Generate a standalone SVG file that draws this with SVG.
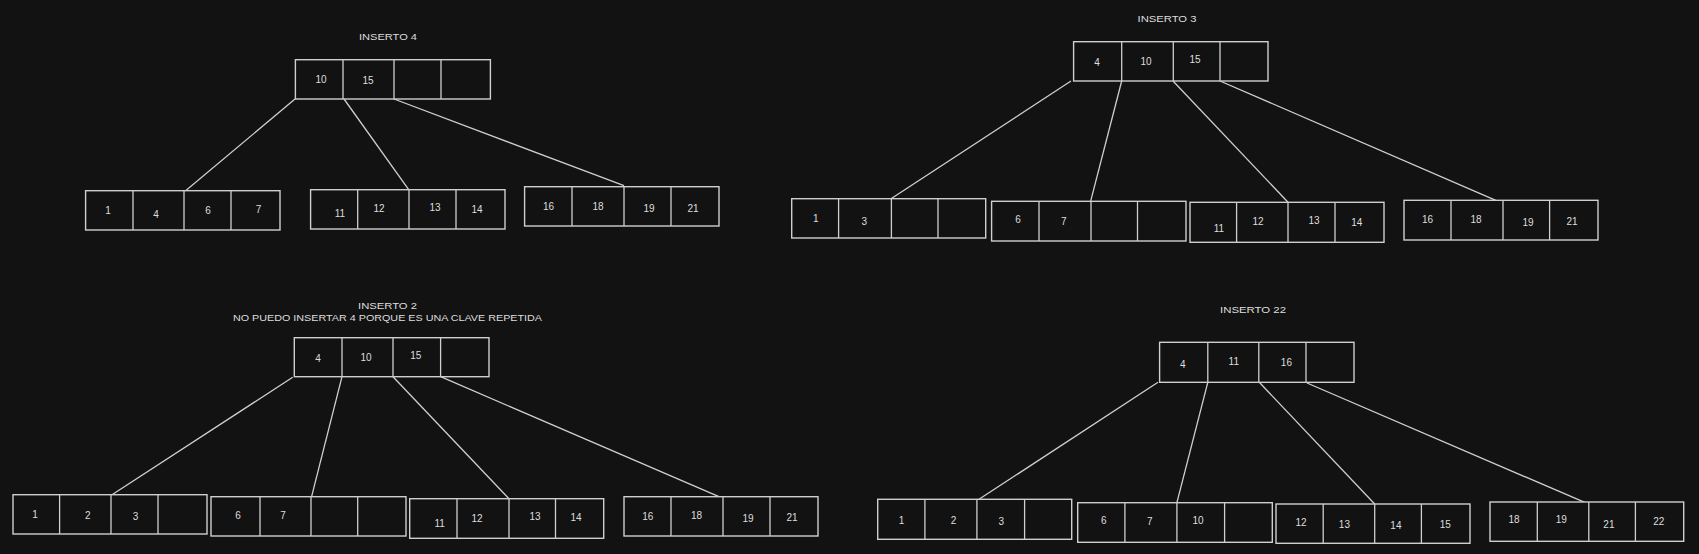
<svg xmlns="http://www.w3.org/2000/svg" width="1699" height="554" viewBox="0 0 1699 554">
<style>
.bg{fill:#121212}
.box{fill:#121212;stroke:#cfcfcf;stroke-width:1.4}
.dv{stroke:#cfcfcf;stroke-width:1.3}
.edge{stroke:#cfcfcf;stroke-width:1.3;fill:none}
.t{font-family:"Liberation Sans",Arial,sans-serif;font-size:10px;fill:#dedede;text-anchor:middle;dominant-baseline:central}
.ti{font-family:"Liberation Sans",Arial,sans-serif;font-size:9.5px;fill:#dedede;text-anchor:middle;dominant-baseline:central}
</style>
<rect class="bg" x="0" y="0" width="1699" height="554"/>

<g id="connectors">
  <line class="edge" x1="295" y1="99" x2="185" y2="191.3"/>
  <line class="edge" x1="344" y1="99" x2="408.7" y2="189.7"/>
  <line class="edge" x1="394" y1="99" x2="624" y2="185.7"/>

  <line class="edge" x1="1071" y1="81" x2="891" y2="198.7"/>
  <line class="edge" x1="1121.7" y1="81" x2="1090.6" y2="201.3"/>
  <line class="edge" x1="1173" y1="81" x2="1288" y2="202.3"/>
  <line class="edge" x1="1220" y1="81" x2="1502.7" y2="203.3"/>

  <line class="edge" x1="292.7" y1="377.3" x2="112" y2="494.7"/>
  <line class="edge" x1="342" y1="376.7" x2="311.6" y2="496.7"/>
  <line class="edge" x1="393" y1="376.7" x2="509" y2="498.7"/>
  <line class="edge" x1="440.6" y1="376.7" x2="723" y2="498.3"/>

  <line class="edge" x1="1158" y1="382.3" x2="979" y2="499.3"/>
  <line class="edge" x1="1207.8" y1="382.3" x2="1176.9" y2="502.7"/>
  <line class="edge" x1="1259.3" y1="382.3" x2="1374.7" y2="504"/>
  <line class="edge" x1="1307" y1="383" x2="1587.7" y2="503.7"/>
</g>

<!-- Tree A: INSERTO 4 -->
<g id="titleA"><text class="ti" x="388" y="36" textLength="58" lengthAdjust="spacingAndGlyphs">INSERTO 4</text></g>
<g id="rootA">
  <rect class="box" x="295.4" y="59.7" width="195" height="39.3"/>
  <line class="dv" x1="343" y1="59.7" x2="343" y2="99"/><line class="dv" x1="394" y1="59.7" x2="394" y2="99"/><line class="dv" x1="441" y1="59.7" x2="441" y2="99"/>
  <text class="t" x="321" y="79.7">10</text><text class="t" x="368" y="80.7">15</text>
</g>
<g id="leafA1">
  <rect class="box" x="85.6" y="190.7" width="194.4" height="39.3"/>
  <line class="dv" x1="133" y1="190.7" x2="133" y2="230"/><line class="dv" x1="184" y1="190.7" x2="184" y2="230"/><line class="dv" x1="231" y1="190.7" x2="231" y2="230"/>
  <text class="t" x="108" y="210.7">1</text><text class="t" x="156" y="214.3">4</text><text class="t" x="208" y="210">6</text><text class="t" x="258.5" y="209">7</text>
</g>
<g id="leafA2">
  <rect class="box" x="310.6" y="189.7" width="194.4" height="39.3"/>
  <line class="dv" x1="357.7" y1="189.7" x2="357.7" y2="229"/><line class="dv" x1="409" y1="189.7" x2="409" y2="229"/><line class="dv" x1="456" y1="189.7" x2="456" y2="229"/>
  <text class="t" x="340" y="213.7">11</text><text class="t" x="379" y="208">12</text><text class="t" x="435" y="207.3">13</text><text class="t" x="477" y="209">14</text>
</g>
<g id="leafA3">
  <rect class="box" x="524.6" y="186.7" width="194.4" height="39.3"/>
  <line class="dv" x1="572" y1="186.7" x2="572" y2="226"/><line class="dv" x1="624" y1="186.7" x2="624" y2="226"/><line class="dv" x1="671" y1="186.7" x2="671" y2="226"/>
  <text class="t" x="548.5" y="206.7">16</text><text class="t" x="598" y="206.7">18</text><text class="t" x="649" y="208.3">19</text><text class="t" x="693" y="208">21</text>
</g>

<!-- Tree B: INSERTO 3 -->
<g id="titleB"><text class="ti" x="1167" y="18.3" textLength="59" lengthAdjust="spacingAndGlyphs">INSERTO 3</text></g>
<g id="rootB">
  <rect class="box" x="1073.6" y="41.7" width="194.4" height="39.3"/>
  <line class="dv" x1="1121.7" y1="41.7" x2="1121.7" y2="81"/><line class="dv" x1="1173.3" y1="41.7" x2="1173.3" y2="81"/><line class="dv" x1="1220" y1="41.7" x2="1220" y2="81"/>
  <text class="t" x="1097" y="62.7">4</text><text class="t" x="1146" y="61.3">10</text><text class="t" x="1195" y="59">15</text>
</g>
<g id="leafB1">
  <rect class="box" x="791.7" y="198.7" width="194" height="39.3"/>
  <line class="dv" x1="838.6" y1="198.7" x2="838.6" y2="238"/><line class="dv" x1="891.4" y1="198.7" x2="891.4" y2="238"/><line class="dv" x1="938" y1="198.7" x2="938" y2="238"/>
  <text class="t" x="815.7" y="218.3">1</text><text class="t" x="864.4" y="221">3</text>
</g>
<g id="leafB2">
  <rect class="box" x="991.6" y="201.3" width="194.4" height="39.7"/>
  <line class="dv" x1="1039" y1="201.3" x2="1039" y2="241"/><line class="dv" x1="1091" y1="201.3" x2="1091" y2="241"/><line class="dv" x1="1137.5" y1="201.3" x2="1137.5" y2="241"/>
  <text class="t" x="1018" y="219">6</text><text class="t" x="1063.7" y="221">7</text>
</g>
<g id="leafB3">
  <rect class="box" x="1190" y="202.3" width="194" height="40"/>
  <line class="dv" x1="1236.6" y1="202.3" x2="1236.6" y2="242.3"/><line class="dv" x1="1288" y1="202.3" x2="1288" y2="242.3"/><line class="dv" x1="1335" y1="202.3" x2="1335" y2="242.3"/>
  <text class="t" x="1219" y="228">11</text><text class="t" x="1258" y="221.7">12</text><text class="t" x="1314" y="220">13</text><text class="t" x="1356.7" y="222.3">14</text>
</g>
<g id="leafB4">
  <rect class="box" x="1404" y="200.3" width="194" height="39.7"/>
  <line class="dv" x1="1451" y1="200.3" x2="1451" y2="240"/><line class="dv" x1="1503" y1="200.3" x2="1503" y2="240"/><line class="dv" x1="1549.6" y1="200.3" x2="1549.6" y2="240"/>
  <text class="t" x="1427.6" y="219.7">16</text><text class="t" x="1476" y="219.7">18</text><text class="t" x="1528" y="222">19</text><text class="t" x="1572" y="221.7">21</text>
</g>

<!-- Tree C: INSERTO 2 -->
<g id="titleC">
  <text class="ti" x="387.5" y="305" textLength="59" lengthAdjust="spacingAndGlyphs">INSERTO 2</text>
  <text class="ti" x="387.5" y="317.7" textLength="309" lengthAdjust="spacingAndGlyphs">NO PUEDO INSERTAR 4 PORQUE ES UNA CLAVE REPETIDA</text>
</g>
<g id="rootC">
  <rect class="box" x="294.3" y="337.7" width="194.7" height="39"/>
  <line class="dv" x1="342" y1="337.7" x2="342" y2="376.7"/><line class="dv" x1="393" y1="337.7" x2="393" y2="376.7"/><line class="dv" x1="440.6" y1="337.7" x2="440.6" y2="376.7"/>
  <text class="t" x="318" y="358.7">4</text><text class="t" x="366" y="357.3">10</text><text class="t" x="415.7" y="355">15</text>
</g>
<g id="leafC1">
  <rect class="box" x="13" y="494.7" width="194" height="39.3"/>
  <line class="dv" x1="59.6" y1="494.7" x2="59.6" y2="534"/><line class="dv" x1="111" y1="494.7" x2="111" y2="534"/><line class="dv" x1="158" y1="494.7" x2="158" y2="534"/>
  <text class="t" x="35" y="514">1</text><text class="t" x="87.8" y="515.3">2</text><text class="t" x="135.5" y="516.3">3</text>
</g>
<g id="leafC2">
  <rect class="box" x="211" y="496.7" width="195" height="39.3"/>
  <line class="dv" x1="260" y1="496.7" x2="260" y2="536"/><line class="dv" x1="311" y1="496.7" x2="311" y2="536"/><line class="dv" x1="357.7" y1="496.7" x2="357.7" y2="536"/>
  <text class="t" x="238" y="515">6</text><text class="t" x="283" y="515.7">7</text>
</g>
<g id="leafC3">
  <rect class="box" x="409.7" y="498.7" width="194" height="39.6"/>
  <line class="dv" x1="457" y1="498.7" x2="457" y2="538.3"/><line class="dv" x1="509" y1="498.7" x2="509" y2="538.3"/><line class="dv" x1="555.5" y1="498.7" x2="555.5" y2="538.3"/>
  <text class="t" x="439.6" y="523.7">11</text><text class="t" x="477" y="518.3">12</text><text class="t" x="535" y="516.3">13</text><text class="t" x="576" y="517.7">14</text>
</g>
<g id="leafC4">
  <rect class="box" x="624" y="496.7" width="194" height="39.3"/>
  <line class="dv" x1="671" y1="496.7" x2="671" y2="536"/><line class="dv" x1="723" y1="496.7" x2="723" y2="536"/><line class="dv" x1="770" y1="496.7" x2="770" y2="536"/>
  <text class="t" x="647.7" y="516">16</text><text class="t" x="696.5" y="515.3">18</text><text class="t" x="748" y="518">19</text><text class="t" x="792" y="517">21</text>
</g>

<!-- Tree D: INSERTO 22 -->
<g id="titleD"><text class="ti" x="1253" y="309.7" textLength="66" lengthAdjust="spacingAndGlyphs">INSERTO 22</text></g>
<g id="rootD">
  <rect class="box" x="1159.6" y="342.3" width="194.4" height="40"/>
  <line class="dv" x1="1207.8" y1="342.3" x2="1207.8" y2="382.3"/><line class="dv" x1="1258.8" y1="342.3" x2="1258.8" y2="382.3"/><line class="dv" x1="1306" y1="342.3" x2="1306" y2="382.3"/>
  <text class="t" x="1182.9" y="364.7">4</text><text class="t" x="1233.8" y="361">11</text><text class="t" x="1286.4" y="362.7">16</text>
</g>
<g id="leafD1">
  <rect class="box" x="877.7" y="499.3" width="194" height="40"/>
  <line class="dv" x1="924.9" y1="499.3" x2="924.9" y2="539.3"/><line class="dv" x1="976.9" y1="499.3" x2="976.9" y2="539.3"/><line class="dv" x1="1024.6" y1="499.3" x2="1024.6" y2="539.3"/>
  <text class="t" x="901.6" y="520.3">1</text><text class="t" x="953.6" y="520.3">2</text><text class="t" x="1001.3" y="521.3">3</text>
</g>
<g id="leafD2">
  <rect class="box" x="1077.7" y="502.7" width="194.6" height="39.6"/>
  <line class="dv" x1="1124.9" y1="502.7" x2="1124.9" y2="542.3"/><line class="dv" x1="1176.9" y1="502.7" x2="1176.9" y2="542.3"/><line class="dv" x1="1224.6" y1="502.7" x2="1224.6" y2="542.3"/>
  <text class="t" x="1103.7" y="520.7">6</text><text class="t" x="1149.8" y="521.7">7</text><text class="t" x="1198" y="520.7">10</text>
</g>
<g id="leafD3">
  <rect class="box" x="1276" y="504" width="194" height="39.3"/>
  <line class="dv" x1="1323.2" y1="504" x2="1323.2" y2="543.3"/><line class="dv" x1="1374.7" y1="504" x2="1374.7" y2="543.3"/><line class="dv" x1="1421.4" y1="504" x2="1421.4" y2="543.3"/>
  <text class="t" x="1301" y="522.3">12</text><text class="t" x="1344.4" y="524.3">13</text><text class="t" x="1395.9" y="525">14</text><text class="t" x="1445.2" y="524.7">15</text>
</g>
<g id="leafD4">
  <rect class="box" x="1490" y="502" width="193.7" height="39.3"/>
  <line class="dv" x1="1537.3" y1="502" x2="1537.3" y2="541.3"/><line class="dv" x1="1588.8" y1="502" x2="1588.8" y2="541.3"/><line class="dv" x1="1635.4" y1="502" x2="1635.4" y2="541.3"/>
  <text class="t" x="1514" y="519">18</text><text class="t" x="1561.2" y="519">19</text><text class="t" x="1608.9" y="524">21</text><text class="t" x="1658.8" y="521.7">22</text>
</g>
</svg>
